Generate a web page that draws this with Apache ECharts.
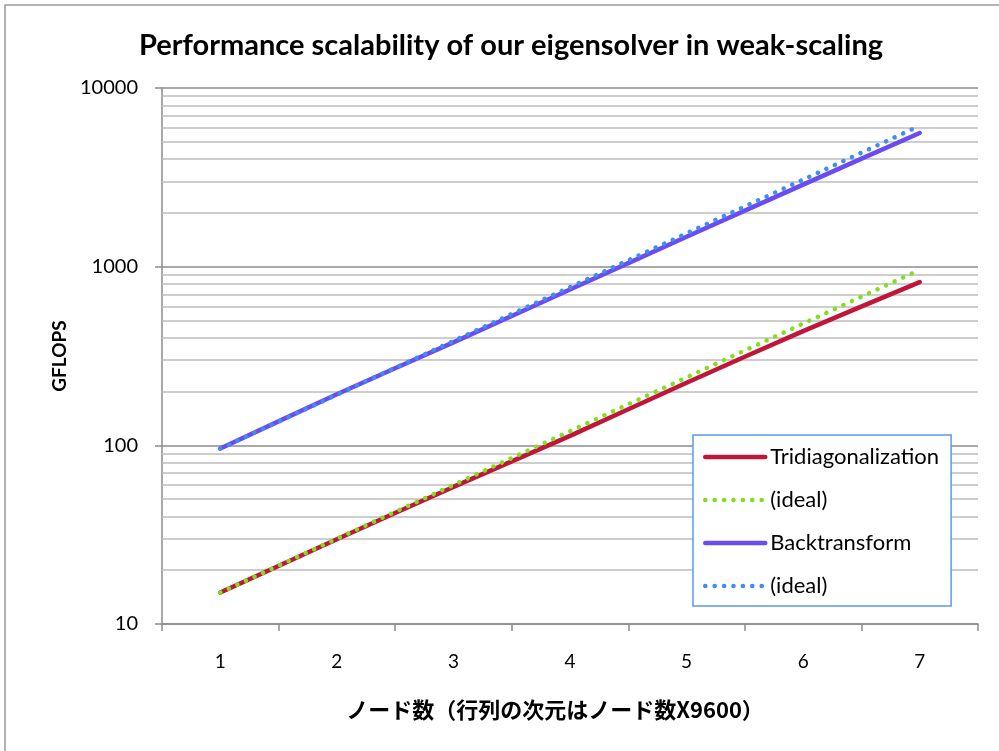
<!DOCTYPE html>
<html>
<head>
<meta charset="utf-8">
<script src="https://cdn.jsdelivr.net/npm/echarts@6/dist/echarts.min.js"></script>
<style>
  html, body { margin: 0; padding: 0; background: #fff; }
  #chart { width: 999px; height: 751px; }
</style>
</head>
<body>
<div id="chart"></div>
<script>
// Node counts (matrix dimension = nodes x 9600)
const nodes = ['1', '2', '3', '4', '5', '6', '7'];

// Measured GFLOPS
const tridiagonalization = [15, 29.8, 58.5, 113, 224, 436, 820];
const tridiagonalizationIdeal = [15, 30, 60, 120, 240, 480, 960];
const backtransform = [96, 193, 377, 745, 1470, 2880, 5600];
const backtransformIdeal = [96, 192, 384, 768, 1536, 3072, 6144];

// Log axis range
const yMin = 10;
const yMax = 10000;

// Minor grid lines at 2..9 x each decade
const minorGrid = [];
for (let d = yMin; d < yMax; d *= 10) {
  for (let k = 2; k <= 9; k++) minorGrid.push({ yAxis: d * k });
}

const latin = 'Lato, "Noto Sans", sans-serif';
const cjk = '"Noto Sans CJK JP", "Noto Sans", sans-serif';

const SOLID_W = 4.5;
const DOT_W = 4.5;
const DOT_DASH = [0.1, 9.3];

const chart = echarts.init(document.getElementById('chart'), null, { renderer: 'canvas' });

chart.setOption({
  backgroundColor: '#ffffff',
  animation: false,
  graphic: [{
    type: 'rect',
    shape: { x: 5, y: 5, width: 1200, height: 1000 },
    style: { fill: 'none', stroke: '#9a9a9a', lineWidth: 1.5 },
    silent: true,
    z: 0
  }],
  title: {
    text: 'Performance scalability of our eigensolver in weak-scaling',
    left: 506,
    top: 26,
    textAlign: 'center',
    textStyle: { fontFamily: latin, fontWeight: 'bold', fontSize: 29, color: '#000' }
  },
  grid: { left: 162, right: 21, top: 88, bottom: 127, containLabel: false },
  legend: {
    orient: 'vertical',
    left: 693,
    top: 435,
    padding: [11, 12, 9, 10],
    backgroundColor: '#fff',
    borderColor: '#5a9be6',
    borderWidth: 1.5,
    itemWidth: 60,
    itemHeight: 14,
    itemGap: 21,
    itemStyle: { opacity: 0 },
    textStyle: { fontFamily: latin, fontSize: 22, color: '#000', lineHeight: 20 },
    data: [
      { name: 'Tridiagonalization', lineStyle: { width: SOLID_W } },
      { name: '(ideal) ', lineStyle: { width: DOT_W, type: DOT_DASH, cap: 'round' } },
      { name: 'Backtransform', lineStyle: { width: SOLID_W } },
      { name: '(ideal)', lineStyle: { width: DOT_W, type: DOT_DASH, cap: 'round' } }
    ],
    formatter: function (n) { return n.trim(); }
  },
  xAxis: {
    type: 'category',
    data: nodes,
    boundaryGap: true,
    name: 'ノード数（行列の次元はノード数X9600）',
    nameLocation: 'middle',
    nameGap: 75,
    nameTextStyle: { fontFamily: cjk, fontWeight: 'bold', fontSize: 22, color: '#000', padding: [0, 30, 0, 0] },
    axisLine: { show: true, lineStyle: { color: '#8c8c8c', width: 1.5 } },
    axisTick: { show: true, length: 7, alignWithLabel: false, lineStyle: { color: '#8c8c8c', width: 1.5 } },
    axisLabel: { margin: 28, fontFamily: latin, fontSize: 19, color: '#000' },
    splitLine: { show: false }
  },
  yAxis: {
    type: 'log',
    logBase: 10,
    min: yMin,
    max: yMax,
    name: 'GFLOPS',
    nameLocation: 'middle',
    nameGap: 84,
    nameRotate: 90,
    nameTextStyle: { fontFamily: latin, fontWeight: 'bold', fontSize: 19, color: '#000' },
    axisLine: { show: true, lineStyle: { color: '#8c8c8c', width: 1.5 } },
    axisTick: { show: true, length: 7, lineStyle: { color: '#8c8c8c', width: 1.5 } },
    axisLabel: {
      margin: 24, fontFamily: latin, fontSize: 20, color: '#000',
      formatter: function (v) { return String(Math.round(v)); }
    },
    splitLine: { show: true, lineStyle: { color: '#8c8c8c', width: 1.5 } },
    minorTick: { show: false },
    minorSplitLine: { show: false }
  },
  series: [
    {
      name: 'Tridiagonalization',
      type: 'line',
      data: tridiagonalization,
      symbol: 'none',
      smooth: 0.2,
      z: 3,
      lineStyle: { color: '#c0163a', width: SOLID_W, cap: 'round' },
      itemStyle: { color: '#c0163a' },
      markLine: {
        silent: true,
        symbol: 'none',
        label: { show: false },
        lineStyle: { color: '#bdbdbd', width: 1.5, type: 'solid' },
        data: minorGrid,
        z: 1
      }
    },
    {
      name: '(ideal) ',
      type: 'line',
      data: tridiagonalizationIdeal,
      symbol: 'none',
      z: 4,
      lineStyle: { color: '#80e01c', width: DOT_W, type: DOT_DASH, cap: 'round' },
      itemStyle: { color: '#80e01c' }
    },
    {
      name: 'Backtransform',
      type: 'line',
      data: backtransform,
      symbol: 'none',
      smooth: 0.2,
      z: 3,
      lineStyle: { color: '#6a4cf0', width: SOLID_W, cap: 'round' },
      itemStyle: { color: '#6a4cf0' }
    },
    {
      name: '(ideal)',
      type: 'line',
      data: backtransformIdeal,
      symbol: 'none',
      z: 4,
      lineStyle: { color: '#3f8cf2', width: DOT_W, type: DOT_DASH, cap: 'round' },
      itemStyle: { color: '#3f8cf2' }
    }
  ]
});
</script>
</body>
</html>
